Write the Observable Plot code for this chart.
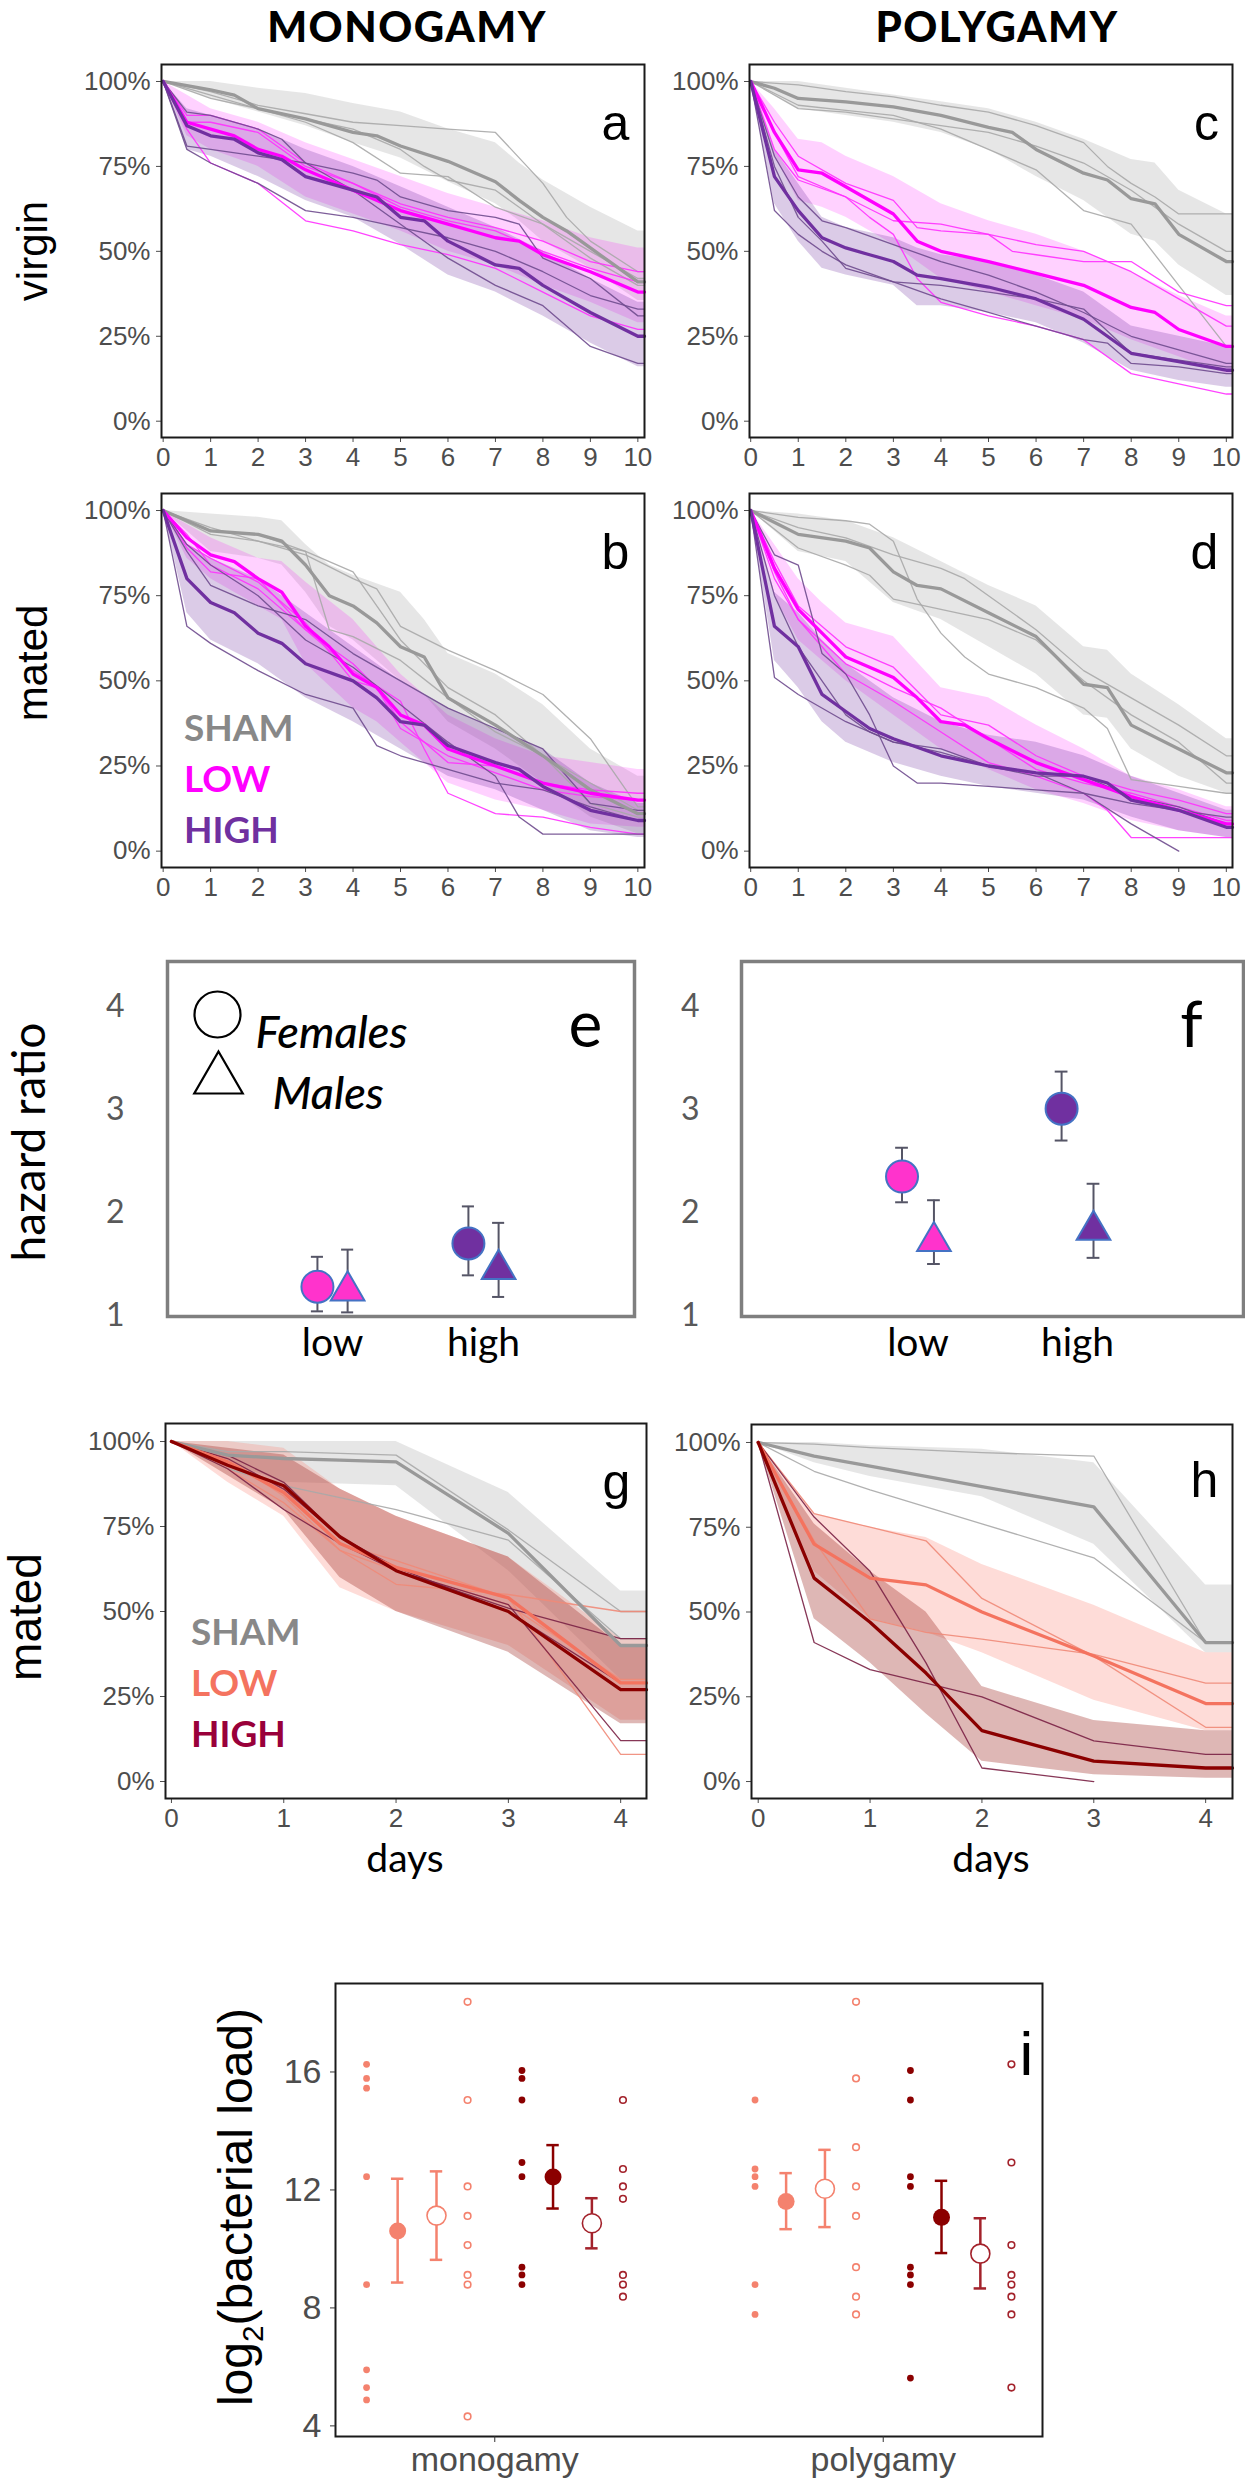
<!DOCTYPE html>
<html><head><meta charset="utf-8">
<script src="https://cdn.jsdelivr.net/npm/d3@7"></script>
<script src="https://cdn.jsdelivr.net/npm/@observablehq/plot@0.6"></script>
<style>
body{margin:0;background:#fff;}
#fig{position:relative;width:1245px;height:2481px;overflow:hidden;background:#fff;}
.abs{position:absolute;white-space:nowrap;}
</style></head><body><div id="fig"></div>
<script>
// ---------------- DATA ----------------
const pctTicks = [0, 0.25, 0.5, 0.75, 1];
const dayTicks10 = [0,1,2,3,4,5,6,7,8,9,10];
const dayTicks4 = [0,1,2,3,4];
const groupNames = ["SHAM", "LOW", "HIGH"];

// panel a : monogamy, virgin  ([t, %] and ci [t, lo, hi])
const a_sham = [[0,100],[1,97.5],[1.5,96],[2,92],[3,89],[4,85],[4.5,84],[5,81],[6,76.5],[7,70.5],[7.5,65],[8,60],[8.5,56],[9,51],[9.5,46],[10,41]];
const a_sham_ci = [[0,100,100],[1,95,100],[2,91,98],[3,87,96.5],[4,82,93.5],[5,77.5,91],[6,70.5,86],[7,64,82],[7.5,59,76],[8,53,71],[9,45,63],[10,35.5,56]];
const a_sham_reps = [
 [[0,100],[1,97],[2,93],[3,90.5],[4,88],[5,87],[6,86],[7,85],[8,70],[8.5,60],[9,53],[10,44]],
 [[0,100],[1,96],[2,92],[3,89],[4,86],[5,80],[5.5,75],[6,71],[7,68],[8,58],[9,50],[10,42]],
 [[0,100],[1,95],[2,92],[3,88],[4,82],[5,73],[6,72],[7,63],[8,58],[9,48],[10,40]]];
const a_low = [[0,100],[0.5,88],[1,86],[1.5,84],[2,80],[2.5,78],[3,74],[4,68],[5,62],[6,58],[7,54],[7.5,53],[8,49],[9,44],[10,38]];
const a_low_ci = [[0,100,100],[0.5,84,96],[1,80,92],[2,75,88],[3,66,82],[4,61,77],[5,56,72],[6,50,67],[7,46,63],[8,40,59],[9,35,54],[10,29,51]];
const a_low_reps = [
 [[0,100],[0.5,88],[1,88],[2,85],[3,75],[4,70],[5,64],[6,60],[7,57],[8,53],[9,47],[10,44]],
 [[0,100],[0.5,86],[1,76],[2,70],[3,59],[4,56],[5,52],[6,49],[7,45],[8,38],[9,31],[10,27]],
 [[0,100],[0.5,90],[1,90],[2,86],[3,76],[4,70],[5,63],[6,59],[7,56],[8,50],[9,45],[10,41]]];
const a_high = [[0,100],[0.5,87],[1,84],[1.5,83],[2,79],[2.5,77],[3,72],[4,68],[4.5,66],[5,60],[5.5,59],[6,53],[7,46],[7.5,45],[8,40],[9,32],[10,25]];
const a_high_ci = [[0,100,100],[0.5,80,92],[1,78,90],[2,72,86],[3,65,80],[4,60,75],[5,52,69],[6,43,63],[7,38,57],[8,31,50],[9,23,42],[10,16,35]];
const a_high_reps = [
 [[0,100],[0.5,81],[1,80],[2,78],[3,76],[4,73],[4.5,71],[5,66],[6,62],[7,60],[7.5,58],[8,48],[9,42],[10,31]],
 [[0,100],[0.5,91],[1,90],[2,86],[2.5,83],[3,76],[4,68],[5,58],[6,48],[7,40],[8,34],[9,22],[10,17]],
 [[0,100],[0.5,80],[1,76],[2,70],[3,62],[4,60],[5,57],[6,54],[7,50],[8,44],[9,37],[10,33]]];

// panel b : monogamy, mated
const b_sham = [[0,100],[1,94],[2,93],[2.5,91],[3,84],[3.5,75],[4,72],[4.5,67],[5,60],[5.5,57],[6,45],[7,37],[8,28],[9,18],[10,11]];
const b_sham_ci = [[0,100,100],[1,88,99],[2,86,98],[2.5,84,97],[3,76,90],[3.5,66,84],[4,62,81],[5,50,76],[5.5,46,68],[6,38,58],[7,30,52],[8,20,43],[9,10,30],[10,5,22]];
const b_sham_reps = [
 [[0,100],[1,95],[2,91],[3,87],[4,80],[4.5,77],[5,66],[6,59],[7,53],[8,46],[9,33],[10,13]],
 [[0,100],[1,94],[2,93],[3,88],[3.5,65],[4,63],[5,56],[6,45],[7,35],[8,28],[9,14],[10,10]],
 [[0,100],[1,93],[2,91],[3,88],[4,82],[5,62],[6,48],[7,40],[8,28],[9,20],[10,12]]];
const b_low = [[0,100],[0.5,92],[1,87],[1.5,85],[2,80],[2.5,76],[3,66],[3.5,60],[4,52],[4.5,48],[5,40],[5.5,37],[6,30],[7,25],[8,20],[9,17],[10,15]];
const b_low_ci = [[0,100,100],[0.5,86,96],[1,80,92],[2,72,86],[2.5,68,85],[3,55,79],[4,42,68],[4.5,38,60],[5,32,52],[6,20,40],[7,15,33],[8,12,28],[9,8,26],[10,7,24]];
const b_low_reps = [
 [[0,100],[0.5,90],[1,86],[2,79],[3,67],[4,50],[4.5,48],[5,38],[6,26],[7,25],[8,20],[9,18],[10,17]],
 [[0,100],[0.5,93],[1,84],[2,77],[3,65],[4,55],[4.5,48],[5,36],[6,28],[7,23],[8,18],[9,16],[10,15]],
 [[0,100],[0.5,89],[1,82],[2,80],[3,65],[4,53],[5,44],[5.5,30],[6,17],[7,11],[8,10],[9,7],[10,5]]];
const b_high = [[0,100],[0.5,80],[1,73],[1.5,70],[2,64],[2.5,61],[3,55],[4,50],[4.5,45],[5,38],[5.5,37],[6,31],[7,26],[7.5,24],[8,19],[9,12],[10,9]];
const b_high_ci = [[0,100,100],[0.5,70,90],[1,62,86],[2,55,80],[3,45,70],[4,38,60],[5,30,50],[6,22,42],[7,18,36],[8,12,30],[9,6,20],[10,4,14]];
const b_high_reps = [
 [[0,100],[0.5,66],[1,61],[2,53],[3,46],[4,42],[4.5,31],[5,28],[6,24],[7,20],[8,18],[9,13],[10,9]],
 [[0,100],[0.5,88],[1,78],[2,72],[3,68],[4,58],[5,50],[6,42],[7,36],[8,30],[9,14],[10,12]],
 [[0,100],[0.5,90],[1,84],[2,75],[3,62],[4,54],[5,43],[6,32],[7,22],[7.5,10],[8,5],[9,5],[10,5]]];

// panel c : polygamy, virgin
const c_sham = [[0,100],[0.5,98],[1,95],[2,94],[3,92.5],[4,90],[5,86.5],[5.5,85],[6,80],[7,73],[7.5,71],[8,65.5],[8.5,64],[9,55],[10,47]];
const c_sham_ci = [[0,100,100],[1,92,100],[2,90,98],[3,88,96],[4,85,94],[5,80,92],[6,72,88],[7,65,83],[8,55,77],[8.5,53,76],[9,46,68],[10,37,61]];
const c_sham_reps = [
 [[0,100],[1,99],[2,97],[3,95.5],[4,93],[5,91],[6,87],[7,82],[7.5,75],[8,70],[8.5,66],[9,61],[10,61]],
 [[0,100],[1,93],[2,91.5],[3,90],[4,86],[5,80],[6,74],[7,62],[8,58],[9,40],[10,22]],
 [[0,100],[1,92],[2,91],[3,89],[4,87],[5,85],[6,81],[7,76],[8,68],[9,58],[10,50]]];
const c_low = [[0,100],[0.5,85],[1,74],[1.5,73],[2,69],[3,61],[3.5,53],[4,50],[5,47],[6,43.5],[7,40],[8,33.5],[8.5,32],[9,27],[10,22]];
const c_low_ci = [[0,100,100],[0.5,78,92],[1,65,83],[1.5,63,82],[2,60,78],[3,52,72],[4,42,64],[5,38,59],[6,34,55],[7,30,50],[8,24,44],[9,19,37],[10,14,31]];
const c_low_reps = [
 [[0,100],[0.5,88],[1,78],[2,70],[3,65],[3.5,57],[4,56],[5,55],[5.5,50],[6,49],[7,47],[8,47],[9,38],[10,34]],
 [[0,100],[0.5,85],[1,72],[2,66],[3,59],[4,58],[5,55],[6,52],[7,50],[8,44],[9,36],[10,28]],
 [[0,100],[0.5,80],[1,71],[2,66],[2.5,60],[3,55],[3.5,42],[4,35],[5,31],[6,28],[7,24],[8,14],[9,11],[10,8]]];
const c_high = [[0,100],[0.5,72],[1,62],[1.5,54],[2,51],[2.5,49],[3,47],[3.5,43],[4,42],[5,39.5],[6,36],[7,30],[7.5,25],[8,20],[9,17.5],[10,15]];
const c_high_ci = [[0,100,100],[0.5,64,80],[1,53,70],[1.5,45,60],[2,43,57],[3,40,54],[3.5,34,51],[4,34,49],[5,32,47],[6,29,43],[7,23,38],[8,15,28],[9,12,25],[10,10,22]];
const c_high_reps = [
 [[0,100],[0.5,62],[1,55],[1.5,50],[2,46],[3,41],[4,40],[5,38],[6,36],[7,33],[8,20],[9,18],[10,16]],
 [[0,100],[0.5,78],[1,66],[1.5,59],[2,57],[3,52],[4,47],[5,43],[6,38],[7,32],[8,25],[9,21],[10,17]],
 [[0,100],[0.5,75],[1,60],[1.5,53],[2,45],[3,41],[4,36],[5,32],[6,28],[7,24],[7.5,23],[8,17],[9,16],[10,14]]];

// panel d : polygamy, mated
const d_sham = [[0,100],[1,93],[2,91],[2.5,89],[3,82],[3.5,78],[4,77],[5,70],[6,63],[7,49],[7.5,48],[8,37],[9,30],[10,23]];
const d_sham_ci = [[0,100,100],[1,88,99],[2,85,97],[3,73,92],[4,68,85],[5,60,78],[6,52,72],[7,40,60],[7.5,39,59],[8,30,52],[9,22,43],[10,17,33]];
const d_sham_reps = [
 [[0,100],[1,98],[2,97],[2.5,96],[3,91],[3.5,74],[4,64],[4.5,57],[5,52],[6,48],[7,42],[7.5,36],[8,21],[9,19],[10,17]],
 [[0,100],[1,95],[2,92],[3,87],[4,83],[4.5,80],[5,75],[6,65],[7,53],[8,45],[9,37],[10,28]],
 [[0,100],[1,89],[2,84],[2.5,81],[3,74],[4,71],[5,68],[6,62],[7,50],[8,40],[9,32],[10,20]]];
const d_low = [[0,100],[0.5,83],[1,71],[1.5,64],[2,57],[2.5,54],[3,51],[3.5,45],[4,38],[4.5,37],[5,33],[6,26],[7,21],[8,16],[9,12],[10,8]];
const d_low_ci = [[0,100,100],[0.5,75,90],[1,62,80],[1.5,56,73],[2,50,67],[3,40,63],[4,30,48],[5,24,45],[6,18,37],[7,14,30],[8,9,22],[9,6,18],[10,4,13]];
const d_low_reps = [
 [[0,100],[0.5,85],[1,72],[2,60],[3,54],[3.5,47],[4,40],[5,37],[6,28],[7,22],[8,18],[9,15],[10,11]],
 [[0,100],[0.5,80],[1,68],[2,55],[3,48],[4,42],[5,33],[6,24],[7,20],[8,17],[9,13],[10,9]],
 [[0,100],[0.5,82],[1,68],[2,52],[3,44],[4,35],[5,26],[6,22],[7,17],[7.5,12],[8,4],[9,4],[10,4]]];
const d_high = [[0,100],[0.5,66],[1,60],[1.5,46],[2,41],[2.5,36],[3,33],[4,28],[5,25],[6,23],[7,22],[7.5,20],[8,15],[9,12],[10,7]];
const d_high_ci = [[0,100,100],[0.5,56,76],[1,48,70],[1.5,38,62],[2,32,55],[3,26,45],[4,22,38],[5,19,34],[6,17,32],[7,15,28],[8,10,22],[9,6,17],[10,4,12]];
const d_high_reps = [
 [[0,100],[0.5,51],[1,46],[2,38],[3,32],[4,29],[5,25],[6,23],[7,17],[8,8],[9,0]],
 [[0,100],[0.5,87],[1,84],[1.5,58],[2,52],[2.5,40],[3,25],[3.5,20],[4,20],[5,19],[6,18],[7,17],[8,14],[9,12],[10,10]],
 [[0,100],[0.5,75],[1,60],[2,40],[2.5,35],[3,32],[4,30],[5,25],[6,22],[7,22],[8,16],[9,13],[10,8]]];

// panel g : monogamy, mated (days)
const g_sham = [[0,100],[0.5,96],[1,95],[1.5,94.5],[2,94],[3,73],[4,40]];
const g_sham_ci = [[0,100,100],[0.5,94,100],[1,88,100],[2,87,100],[3,62,85],[4,30,56]];
const g_sham_reps = [[[0,100],[0.5,97],[1,97],[2,96],[3,74],[4,50]], [[0,100],[0.5,92],[1,87],[2,80],[3,71],[4,42]]];
const g_low = [[0,100],[0.5,94],[1,85],[1.5,70],[2,63],[3,54],[4,29]];
const g_low_ci = [[0,100,100],[0.5,88,100],[1,78,98],[1.5,57,86],[2,50,78],[3,40,66],[4,18,42]];
const g_low_reps = [[[0,100],[0.5,95],[1,84],[1.5,68],[2,58],[3,55],[4,50]], [[0,100],[0.5,94],[1,86],[1.5,70],[2,65],[3,54],[4,8]], [[0,100],[0.5,92],[1,82],[1.5,68],[2,62],[3,52],[4,30]]];
const g_high = [[0,100],[0.5,93],[1,87],[1.5,72],[2,62],[3,50],[4,27]];
const g_high_ci = [[0,100,100],[0.5,90,98],[1,80,96],[1.5,60,86],[2,50,78],[3,38,66],[4,17,40]];
const g_high_reps = [[[0,100],[0.5,92],[1,80],[1.5,70],[2,62],[3,51],[4,42]], [[0,100],[0.5,96],[1,88],[1.5,72],[2,62],[3,52],[4,12]], [[0,100],[0.5,95],[1,86],[1.5,72],[2,63],[3,50],[4,29]]];

// panel h : polygamy, mated (days)
const h_sham = [[0,100],[0.5,96],[1,93],[2,87],[3,81],[4,41]];
const h_sham_ci = [[0,100,100],[0.5,94,100],[1,90,99],[2,84,98],[3,70,94],[4,38,58]];
const h_sham_reps = [[[0,100],[0.5,99.5],[1,98.5],[2,97],[3,96],[4,41]], [[0,100],[0.5,91.5],[1,86],[2,76],[3,66],[4,41]]];
const h_low = [[0,100],[0.5,70],[1,60],[1.5,58],[2,50],[3,37],[4,23]];
const h_low_ci = [[0,100,100],[0.5,62,79],[1,48,75],[1.5,44,72],[2,38,64],[3,24,52],[4,15,38]];
const h_low_reps = [[[0,100],[0.5,79],[1,75],[1.5,71],[2,54],[3,37],[4,16]], [[0,100],[0.5,71],[1,48],[1.5,44],[2,42],[3,37.5],[4,29]]];
const h_high = [[0,100],[0.5,60],[1,47],[1.5,32],[2,15],[3,6],[4,4]];
const h_high_ci = [[0,100,100],[0.5,48,76],[1,35,62],[1.5,20,50],[2,6,28],[3,2,18],[4,1,15]];
const h_high_reps = [[[0,100],[0.5,41],[1,33],[1.5,29],[2,25],[3,12],[4,8]], [[0,100],[0.5,78],[1,62],[1.5,35],[2,4],[3,0]]];

// panels e, f : hazard ratios (order: low, high)
const hzCats = ["low", "high"];
const hzTicks = [1, 2, 3, 4];
const e_fem_hr = [1.28, 1.70], e_fem_lo = [1.04, 1.39], e_fem_hi = [1.57, 2.06];
const e_mal_hr = [1.24, 1.45], e_mal_lo = [1.03, 1.18], e_mal_hi = [1.64, 1.90];
const f_fem_hr = [2.35, 3.01], f_fem_lo = [2.10, 2.70], f_fem_hi = [2.63, 3.37];
const f_mal_hr = [1.72, 1.83], f_mal_lo = [1.50, 1.56], f_mal_hi = [2.12, 2.28];

// panel i : bacterial load (log2)
const loadCats = ["monogamy", "polygamy"];
const loadTicks = [4, 8, 12, 16];
const mono_low_f_raw = [16.26, 15.78, 15.45, 12.45, 8.79, 5.90, 5.30, 4.88];
const mono_low_m_raw = [18.38, 15.05, 12.12, 11.12, 10.13, 9.12, 8.79, 4.32];
const mono_high_f_raw = [16.05, 15.78, 15.05, 12.93, 12.45, 9.38, 9.12, 8.79];
const mono_high_m_raw = [15.05, 12.71, 12.12, 11.70, 9.12, 8.79, 8.38];
const poly_low_f_raw = [15.05, 12.71, 12.45, 12.12, 8.79, 7.78];
const poly_low_m_raw = [18.38, 15.78, 13.45, 12.12, 11.12, 9.38, 8.38, 7.78];
const poly_high_f_raw = [16.05, 15.05, 12.45, 12.12, 9.38, 9.12, 8.79, 5.62];
const poly_high_m_raw = [16.26, 12.93, 10.13, 9.12, 8.79, 8.38, 7.78, 5.30];
// group order: low female, low male, high female, high male
const mono_mean = [10.61, 11.13, 12.44, 10.87], mono_lo = [8.86, 9.63, 11.37, 10.02], mono_hi = [12.38, 12.63, 13.52, 11.72];
const poly_mean = [11.61, 12.04, 11.07, 9.84], poly_lo = [10.67, 10.74, 9.86, 8.66], poly_hi = [12.57, 13.36, 12.31, 11.04];

// ---------------- LAYOUT / STYLE ----------------
const fig = document.getElementById("fig");
const ARIAL = "'Liberation Sans', Arial, Helvetica, sans-serif";
const CAL = "Lato, 'Open Sans', sans-serif";
const palAD = {
  sham: {line: "#999999", thin: "#a9a9a9", fill: "#c4c4c4", op: 0.42},
  low:  {line: "#ff00ff", thin: "#ff30ff", fill: "#ff00ff", op: 0.18},
  high: {line: "#7030a0", thin: "#6f4b8e", fill: "#7030a0", op: 0.25}
};
const palGH = {
  sham: palAD.sham,
  low:  {line: "#f4735f", thin: "#f08a78", fill: "#fa8072", op: 0.28},
  high: {line: "#8b0000", thin: "#7a2145", fill: "#a0302a", op: 0.35}
};

function place(el, left, top) {
  el.style.position = "absolute";
  el.style.left = left + "px";
  el.style.top = top + "px";
  fig.appendChild(el);
}
function label(html, x, y, css, mode) {
  const d = document.createElement("div");
  d.className = "abs";
  d.innerHTML = html;
  Object.assign(d.style, {left: x + "px", top: y + "px", lineHeight: "1.15"}, css);
  d.style.transform = mode === "left" ? "translate(0,-50%)" :
    mode === "rot" ? "translate(-50%,-50%) rotate(-90deg)" : "translate(-50%,-50%)";
  fig.appendChild(d);
}

function survPanel(o) {
  const ml = 110, mt = 12, mr = 12, mb = 48;
  const [fl, ft, fr, fb] = o.frame;
  const xMax = o.xDomain[1];
  const ext = a => a[a.length - 1][0] === o.tMax ? a.concat([[xMax].concat(a[a.length - 1].slice(1))]) : a;
  const X = d => d[0], Y = d => d[1] / 100;
  const marks = [];
  for (const s of o.series) marks.push(Plot.areaY(ext(s.ci), {x: X, y1: d => d[1] / 100, y2: d => d[2] / 100, fill: s.pal.fill, fillOpacity: s.pal.op}));
  for (const s of o.series) for (const r of s.reps) marks.push(Plot.line(ext(r), {x: X, y: Y, stroke: s.pal.thin, strokeWidth: 1.3, strokeOpacity: 0.9}));
  for (const s of o.series) marks.push(Plot.line(ext(s.mean), {x: X, y: Y, stroke: s.pal.line, strokeWidth: 3.3}));
  marks.push(Plot.frame({stroke: "#1a1a1a", strokeWidth: 2}));
  marks.push(Plot.text([o.letter], {text: d => d, frameAnchor: "top-right", dx: o.ldx, dy: o.ldy, fontSize: 50, fontFamily: ARIAL, fill: "#000", textAnchor: "middle"}));
  const p = Plot.plot({
    width: fr - fl + ml + mr, height: fb - ft + mt + mb,
    marginLeft: ml, marginRight: mr, marginTop: mt, marginBottom: mb,
    x: {domain: o.xDomain, ticks: o.xTicks, tickSize: 5, tickPadding: 5, label: null, tickFormat: d => String(d)},
    y: {domain: o.yDomain, ticks: pctTicks, tickSize: 5, tickPadding: 6, label: null, tickFormat: d => Math.round(d * 100) + "%"},
    style: {background: "transparent", overflow: "visible", fontFamily: ARIAL, fontSize: "26px", color: "#4d4d4d"},
    marks
  });
  place(p, fl - ml, ft - mt);
}

function hazPanel(o) {
  const ml = 90, mt = 10, mr = 10, mb = 70;
  const [fl, ft, fr, fb] = o.frame;
  const hzFill = ["#ff33cc", "#7030a0"];
  const mk = (hr, lo, hi, off) => hzCats.map((c, i) => ({x: i + 1 + off, y: hr[i], lo: lo[i], hi: hi[i], i}));
  const fem = mk(o.fHr, o.fLo, o.fHi, -0.1), mal = mk(o.mHr, o.mLo, o.mHi, 0.1);
  const all = fem.concat(mal);
  const cap = 0.04, ec = "#555566";
  const marks = [
    Plot.ruleX(all, {x: "x", y1: "lo", y2: "hi", stroke: ec, strokeWidth: 2}),
    Plot.ruleY(all, {y: "hi", x1: d => d.x - cap, x2: d => d.x + cap, stroke: ec, strokeWidth: 2}),
    Plot.ruleY(all, {y: "lo", x1: d => d.x - cap, x2: d => d.x + cap, stroke: ec, strokeWidth: 2}),
    ...hzCats.map((c, i) => Plot.dot(fem.filter(d => d.i === i), {x: "x", y: "y", r: 16, fill: hzFill[i], stroke: "#4472c4", strokeWidth: 2})),
    ...hzCats.map((c, i) => Plot.dot(mal.filter(d => d.i === i), {x: "x", y: "y", r: 12.5, symbol: "triangle", fill: hzFill[i], stroke: "#4472c4", strokeWidth: 2})),
    Plot.frame({stroke: "#7f7f7f", strokeWidth: 3.5}),
    Plot.axisY({ticks: hzTicks, tickFormat: d => String(d), tickSize: 0, tickPadding: o.yPad, fontSize: 32, fill: "#595959", fontFamily: CAL, label: null}),
    Plot.axisX({ticks: [1, 2], tickFormat: d => hzCats[d - 1], tickSize: 0, tickPadding: 12, fontSize: 39, fill: "#000", fontFamily: CAL, label: null}),
    Plot.text([o.letter], {text: d => d, frameAnchor: "top-right", dx: o.ldx, dy: o.ldy, fontSize: 64, fontFamily: CAL, fill: "#000", textAnchor: "middle"})
  ];
  if (o.legend) {
    marks.push(Plot.dot([0], {frameAnchor: "top-left", dx: 50, dy: 53, r: 23, fill: "none", stroke: "#000", strokeWidth: 2.2}));
    marks.push(Plot.dot([0], {frameAnchor: "top-left", dx: 51, dy: 118, r: 18, symbol: "triangle", fill: "none", stroke: "#000", strokeWidth: 2.2}));
    marks.push(Plot.text(["Females"], {text: d => d, frameAnchor: "top-left", dx: 88, dy: 55, textAnchor: "start", fontStyle: "italic", fontWeight: 500, fontSize: 45, fontFamily: CAL, fill: "#000"}));
    marks.push(Plot.text(["Males"], {text: d => d, frameAnchor: "top-left", dx: 105, dy: 116, textAnchor: "start", fontStyle: "italic", fontWeight: 500, fontSize: 45, fontFamily: CAL, fill: "#000"}));
  }
  const p = Plot.plot({
    width: fr - fl + ml + mr, height: fb - ft + mt + mb,
    marginLeft: ml, marginRight: mr, marginTop: mt, marginBottom: mb,
    x: {domain: o.xDomain}, y: {domain: [0.99, 4.44]},
    style: {background: "transparent", overflow: "visible", fontFamily: CAL},
    marks
  });
  place(p, fl - ml, ft - mt);
}

function loadPanel() {
  const ml = 130, mt = 10, mr = 10, mb = 60;
  const [fl, ft, fr, fb] = [335, 1983, 1042, 2436];
  const groups = [
    {raw: [mono_low_f_raw, poly_low_f_raw], rawOff: -0.33, meanOff: -0.25, color: "#f4826e", filled: true},
    {raw: [mono_low_m_raw, poly_low_m_raw], rawOff: -0.07, meanOff: -0.15, color: "#f4826e", filled: false},
    {raw: [mono_high_f_raw, poly_high_f_raw], rawOff: 0.07, meanOff: 0.15, color: "#8b0000", filled: true},
    {raw: [mono_high_m_raw, poly_high_m_raw], rawOff: 0.33, meanOff: 0.25, color: "#a3222b", filled: false}
  ];
  const means = [mono_mean, poly_mean], los = [mono_lo, poly_lo], his = [mono_hi, poly_hi];
  const marks = [];
  const cap = 0.016;
  groups.forEach((g, gi) => {
    const raw = [];
    g.raw.forEach((arr, k) => arr.forEach(v => raw.push({x: k + 1 + g.rawOff, y: v})));
    marks.push(Plot.dot(raw, {x: "x", y: "y", r: g.filled ? 3.4 : 3.3, fill: g.filled ? g.color : "white", stroke: g.color, strokeWidth: g.filled ? 0 : 1.6}));
    const m = loadCats.map((c, k) => ({x: k + 1 + g.meanOff, y: means[k][gi], lo: los[k][gi], hi: his[k][gi]}));
    marks.push(Plot.ruleX(m, {x: "x", y1: "lo", y2: "hi", stroke: g.color, strokeWidth: 2.5}));
    marks.push(Plot.ruleY(m, {y: "hi", x1: d => d.x - cap, x2: d => d.x + cap, stroke: g.color, strokeWidth: 2.5}));
    marks.push(Plot.ruleY(m, {y: "lo", x1: d => d.x - cap, x2: d => d.x + cap, stroke: g.color, strokeWidth: 2.5}));
    marks.push(Plot.dot(m, {x: "x", y: "y", r: g.filled ? 8.5 : 9.5, fill: g.filled ? g.color : "white", stroke: g.color, strokeWidth: g.filled ? 0 : 1.6}));
  });
  marks.push(Plot.frame({stroke: "#1a1a1a", strokeWidth: 2}));
  marks.push(Plot.axisY({ticks: loadTicks, tickSize: 5, tickPadding: 9, fontSize: 34, fill: "#4d4d4d", stroke: "#333", fontFamily: ARIAL, label: null}));
  marks.push(Plot.axisX({ticks: [1, 2], tickFormat: d => loadCats[d - 1], tickSize: 6, tickPadding: 4, fontSize: 34, fill: "#4d4d4d", stroke: "#333", fontFamily: ARIAL, label: null}));
  marks.push(Plot.text(["i"], {text: d => d, frameAnchor: "top-right", dx: -16, dy: 47, fontSize: 62, fontFamily: ARIAL, fill: "#000", textAnchor: "middle"}));
  const p = Plot.plot({
    width: fr - fl + ml + mr, height: fb - ft + mt + mb,
    marginLeft: ml, marginRight: mr, marginTop: mt, marginBottom: mb,
    x: {domain: [0.59, 2.41]}, y: {domain: [3.64, 19.0]},
    style: {background: "transparent", overflow: "visible", fontFamily: ARIAL},
    marks
  });
  place(p, fl - ml, ft - mt);
}

// ---------------- BUILD ----------------
const yD = [-0.048, 1.05];
survPanel({frame: [161, 64, 644, 437], xDomain: [-0.035, 10.14], xTicks: dayTicks10, tMax: 10, yDomain: yD, letter: "a", ldx: -29, ldy: 40,
  series: [{mean: a_sham, ci: a_sham_ci, reps: a_sham_reps, pal: palAD.sham}, {mean: a_low, ci: a_low_ci, reps: a_low_reps, pal: palAD.low}, {mean: a_high, ci: a_high_ci, reps: a_high_reps, pal: palAD.high}]});
survPanel({frame: [749, 64, 1232, 437], xDomain: [-0.025, 10.13], xTicks: dayTicks10, tMax: 10, yDomain: yD, letter: "c", ldx: -26, ldy: 40,
  series: [{mean: c_sham, ci: c_sham_ci, reps: c_sham_reps, pal: palAD.sham}, {mean: c_low, ci: c_low_ci, reps: c_low_reps, pal: palAD.low}, {mean: c_high, ci: c_high_ci, reps: c_high_reps, pal: palAD.high}]});
survPanel({frame: [161, 493, 644, 867], xDomain: [-0.035, 10.14], xTicks: dayTicks10, tMax: 10, yDomain: yD, letter: "b", ldx: -29, ldy: 40,
  series: [{mean: b_sham, ci: b_sham_ci, reps: b_sham_reps, pal: palAD.sham}, {mean: b_low, ci: b_low_ci, reps: b_low_reps, pal: palAD.low}, {mean: b_high, ci: b_high_ci, reps: b_high_reps, pal: palAD.high}]});
survPanel({frame: [749, 493, 1232, 867], xDomain: [-0.025, 10.13], xTicks: dayTicks10, tMax: 10, yDomain: yD, letter: "d", ldx: -28, ldy: 40,
  series: [{mean: d_sham, ci: d_sham_ci, reps: d_sham_reps, pal: palAD.sham}, {mean: d_low, ci: d_low_ci, reps: d_low_reps, pal: palAD.low}, {mean: d_high, ci: d_high_ci, reps: d_high_reps, pal: palAD.high}]});

hazPanel({frame: [167, 961, 634, 1316], xDomain: [-0.093, 3.0], yPad: 43, letter: "e", ldx: -49, ldy: 40, legend: true,
  fHr: e_fem_hr, fLo: e_fem_lo, fHi: e_fem_hi, mHr: e_mal_hr, mLo: e_mal_lo, mHi: e_mal_hi});
hazPanel({frame: [741, 961, 1243, 1316], xDomain: [-0.106, 3.04], yPad: 42, letter: "f", ldx: -52, ldy: 40, legend: false,
  fHr: f_fem_hr, fLo: f_fem_lo, fHi: f_fem_hi, mHr: f_mal_hr, mLo: f_mal_lo, mHi: f_mal_hi});

survPanel({frame: [165, 1423, 646, 1798], xDomain: [-0.053, 4.23], xTicks: dayTicks4, tMax: 4, yDomain: [-0.05, 1.053], letter: "g", ldx: -30, ldy: 40,
  series: [{mean: g_sham, ci: g_sham_ci, reps: g_sham_reps, pal: palGH.sham}, {mean: g_low, ci: g_low_ci, reps: g_low_reps, pal: palGH.low}, {mean: g_high, ci: g_high_ci, reps: g_high_reps, pal: palGH.high}]});
survPanel({frame: [751, 1424, 1232, 1798], xDomain: [-0.06, 4.24], xTicks: dayTicks4, tMax: 4, yDomain: [-0.05, 1.053], letter: "h", ldx: -28, ldy: 37,
  series: [{mean: h_sham, ci: h_sham_ci, reps: h_sham_reps, pal: palGH.sham}, {mean: h_low, ci: h_low_ci, reps: h_low_reps, pal: palGH.low}, {mean: h_high, ci: h_high_ci, reps: h_high_reps, pal: palGH.high}]});

loadPanel();

// ---------------- TEXT ----------------
label("MONOGAMY", 407, 26, {fontFamily: CAL, fontWeight: "900", fontSize: "42px", letterSpacing: "1.5px", color: "#000", lineHeight: "1"});
label("POLYGAMY", 997, 26, {fontFamily: CAL, fontWeight: "900", fontSize: "42px", letterSpacing: "1.5px", color: "#000", lineHeight: "1"});
label("virgin", 33, 251, {fontFamily: ARIAL, fontSize: "42px", color: "#000"}, "rot");
label("mated", 33, 663, {fontFamily: ARIAL, fontSize: "42px", color: "#000"}, "rot");
label("hazard ratio", 28, 1142, {fontFamily: CAL, fontSize: "46px", color: "#000"}, "rot");
label("mated", 25, 1617, {fontFamily: ARIAL, fontSize: "46px", color: "#000"}, "rot");
label("log<sub style='font-size:62%'>2</sub>(bacterial load)", 239, 2207, {fontFamily: ARIAL, fontSize: "48px", color: "#000"}, "rot");
label("days", 405, 1857, {fontFamily: CAL, fontSize: "39px", color: "#000"});
label("days", 991, 1857, {fontFamily: CAL, fontSize: "39px", color: "#000"});

const legAD = ["#888888", "#ff00ff", "#7030a0"];
const legGH = ["#888888", "#f4735f", "#99003a"];
groupNames.forEach((n, i) => {
  label(n, 184, 726 + i * 51, {fontFamily: CAL, fontWeight: "700", fontSize: "37px", color: legAD[i], lineHeight: "1"}, "left");
  label(n, 191, 1630 + i * 51, {fontFamily: CAL, fontWeight: "700", fontSize: "37px", color: legGH[i], lineHeight: "1"}, "left");
});
</script></body></html>
